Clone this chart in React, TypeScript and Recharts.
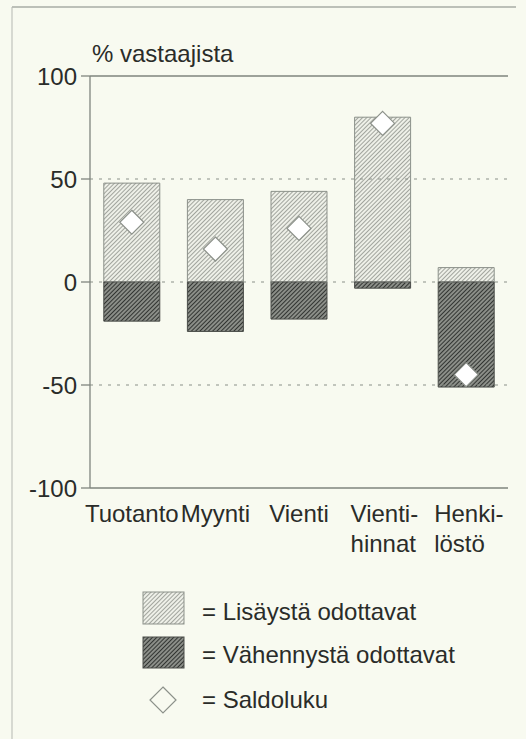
import React from 'react'
import {
  ComposedChart,
  Bar,
  Line,
  XAxis,
  YAxis,
  ReferenceLine
} from 'recharts'

const categories = ['Tuotanto', 'Myynti', 'Vienti', 'Vienti-\nhinnat', 'Henki-\nlöstö']
const increase = [48, 40, 44, 80, 7]
const decrease = [-19, -24, -18, -3, -51]
const balance = [29, 16, 26, 77, -45]
const yTicks = [-100, -50, 0, 50, 100]
const gridValues = [50, 0, -50]

const legendItems = ['= Lisäystä odottavat', '= Vähennystä odottavat', '= Saldoluku']

const FONT = '"Liberation Sans", Arial, Helvetica, sans-serif'
const TEXT = '#2a2c29'
const AXIS = '#7f857e'
const BG = '#f8faf0'

const data = categories.map((name, i) => ({
  name,
  lisays: increase[i],
  vahennys: decrease[i],
  saldo: balance[i]
}))

const Diamond = (props: any) => {
  const { cx, cy } = props
  if (cx == null || cy == null) return null
  const r = 12
  return (
    <path
      d={`M${cx},${cy - r} L${cx + r},${cy} L${cx},${cy + r} L${cx - r},${cy} Z`}
      fill="#ffffff"
      stroke="#8c918a"
      strokeWidth={1.2}
    />
  )
}

const CategoryTick = (props: any) => {
  const { x, y, payload } = props
  const lines = String(payload.value).split('\n')
  if (lines.length === 1) {
    return (
      <text x={x} y={y + 34} textAnchor="middle" fill={TEXT} fontSize={24} fontFamily={FONT}>
        {lines[0]}
      </text>
    )
  }
  return (
    <text x={x - 32} y={y + 34} textAnchor="start" fill={TEXT} fontSize={24} fontFamily={FONT}>
      {lines.map((l, i) => (
        <tspan key={i} x={x - 32} dy={i === 0 ? 0 : 30}>
          {l}
        </tspan>
      ))}
    </text>
  )
}

export default function App() {
  return (
    <div style={{ position: 'absolute', left: 0, top: 0, width: 526, height: 739, background: BG, overflow: 'hidden' }}>
      <svg width={526} height={739} style={{ position: 'absolute', left: 0, top: 0 }}>
        <defs>
          <pattern id="hatchLight" width="3" height="3" patternUnits="userSpaceOnUse" patternTransform="rotate(45)">
            <rect width="3" height="3" fill="#eef0e8" />
            <line x1="0" y1="0" x2="0" y2="3" stroke="#878b84" strokeWidth="1.5" />
          </pattern>
          <pattern id="hatchDark" width="3" height="3" patternUnits="userSpaceOnUse" patternTransform="rotate(45)">
            <rect width="3" height="3" fill="#8b8e88" />
            <line x1="0" y1="0" x2="0" y2="3" stroke="#222422" strokeWidth="1.7" />
          </pattern>
        </defs>
        <line x1={12} y1={7} x2={516} y2={7} stroke="#a9aca6" strokeWidth={1.5} />
        <line x1={12} y1={7} x2={12} y2={739} stroke="#b5b8b2" strokeWidth={1} />
        <text x={92} y={62} fill={TEXT} fontSize={24} fontFamily={FONT}>% vastaajista</text>
        {legendItems.map((label, i) => (
          <text key={label} x={202} y={[620, 663, 708][i]} fill={TEXT} fontSize={24} fontFamily={FONT}>
            {label}
          </text>
        ))}
        <rect x={143} y={592} width={41} height={32} fill="url(#hatchLight)" stroke="#8c918a" />
        <rect x={143} y={637} width={41} height={31} fill="url(#hatchDark)" stroke="#4a4d49" />
        <path d="M163,687 L176,700 L163,713 L150,700 Z" fill="none" stroke="#8c918a" strokeWidth={1.2} />
      </svg>
      <div style={{ position: 'absolute', left: 0, top: 0 }}>
        <ComposedChart
          width={526}
          height={570}
          data={data}
          stackOffset="sign"
          barCategoryGap="16.5%"
          margin={{ top: 76, right: 18, left: 30, bottom: 12 }}
        >
          <XAxis
            dataKey="name"
            tick={<CategoryTick />}
            tickLine={false}
            tickSize={0}
            tickMargin={0}
            height={70}
            axisLine={{ stroke: AXIS, strokeWidth: 1.3 }}
            interval={0}
          />
          <YAxis
            domain={[-100, 100]}
            ticks={yTicks}
            width={60}
            tickSize={9}
            tickMargin={4}
            tick={{ fill: TEXT, fontSize: 24, fontFamily: FONT }}
            tickLine={{ stroke: AXIS, strokeWidth: 1.3 }}
            axisLine={{ stroke: AXIS, strokeWidth: 1.3 }}
            allowDataOverflow
          />
          <YAxis
            yAxisId="frame"
            orientation="right"
            width={0}
            domain={[-100, 100]}
            tick={false}
            tickLine={false}
            axisLine={{ stroke: AXIS, strokeWidth: 1.3 }}
          />
          <ReferenceLine y={100} stroke={AXIS} strokeWidth={1.3} />
          {gridValues.map((v) => (
            <ReferenceLine key={v} y={v} stroke="#8a8f88" strokeWidth={1.2} strokeDasharray="3 6" />
          ))}
          <Bar dataKey="lisays" stackId="a" fill="url(#hatchLight)" stroke="#8c918a" strokeWidth={1} isAnimationActive={false} />
          <Bar dataKey="vahennys" stackId="a" fill="url(#hatchDark)" stroke="#4a4d49" strokeWidth={1} isAnimationActive={false} />
          <Line
            dataKey="saldo"
            stroke="none"
            dot={<Diamond />}
            activeDot={false}
            isAnimationActive={false}
          />
        </ComposedChart>
      </div>
    </div>
  )
}
